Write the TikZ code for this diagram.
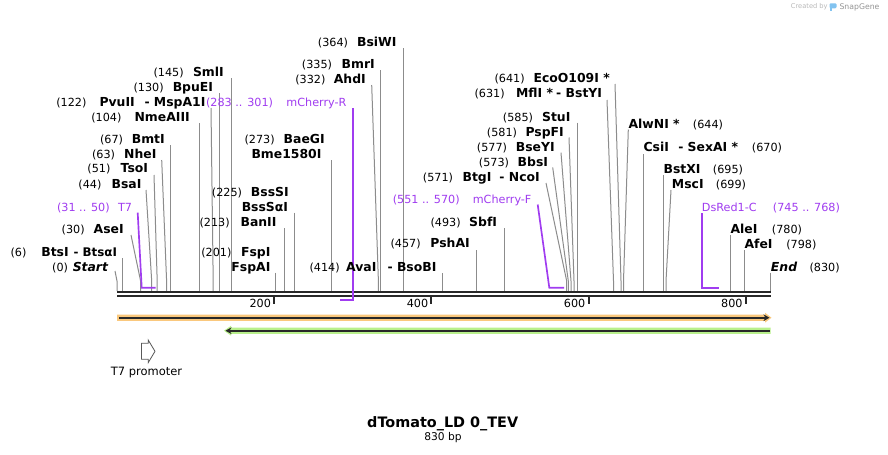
\documentclass[tikz,border=0pt]{standalone}
\usepackage{fontspec}
\setmainfont{DejaVu Sans}[BoldFont={DejaVu Sans Bold},ItalicFont={DejaVu Sans Oblique},BoldItalicFont={DejaVu Sans Bold Oblique}]
\usetikzlibrary{arrows.meta}
\definecolor{cutgray}{RGB}{140,140,140}
\definecolor{primer}{RGB}{160,60,240}
\definecolor{bb}{RGB}{40,40,40}
\definecolor{orangeband}{RGB}{250,200,125}
\definecolor{greenband}{RGB}{185,240,140}
\definecolor{logoblue}{RGB}{130,195,240}
\definecolor{logogray}{RGB}{185,185,185}
\tikzset{
  numtxt/.style={inner sep=0pt, yshift=-3.3pt, font=\fontsize{8.4}{10}\selectfont, text=black},
  enz/.style={inner sep=0pt, yshift=-3.3pt, font=\fontsize{9.3}{11}\selectfont\bfseries, text=black},
  enzit/.style={enz, font=\fontsize{9.3}{11}\selectfont\bfseries\itshape},
  ptxt/.style={inner sep=0pt, yshift=-3.3pt, font=\fontsize{8.4}{10}\selectfont, text=primer},
  cutln/.style={draw=cutgray, line width=0.75pt},
  primln/.style={draw=primer, line width=1.25pt},
}
\newcommand\numL[4]{\node[numtxt,anchor=base east] (#1) at (#2,#3) {#4};}
\newcommand\enzL[4]{\node[enz,anchor=base east] (#1) at (#2,#3) {#4};}
\newcommand\numR[4]{\node[numtxt,anchor=base west] (#1) at (#2,#3) {#4};}
\newcommand\enzR[4]{\node[enz,anchor=base west] (#1) at (#2,#3) {#4};}
\newcommand\prmL[4]{\node[ptxt,anchor=base east] (#1) at (#2,#3) {#4};}
\newcommand\prmR[4]{\node[ptxt,anchor=base west] (#1) at (#2,#3) {#4};}
\newcommand\cutat[4]{%
  \coordinate (#1-s) at (#2,#3);
  \coordinate (#1-k) at (#4,281);
  \coordinate (#1-b) at (#4,291);
  \draw[cutln] (#1-s) -- (#1-k) -- (#1-b);}
\begin{document}
\begin{tikzpicture}[x=0.75pt,y=-0.75pt]
\useasboundingbox[fill=white] (0,0) rectangle (888,454);

% ---- cut lines
\cutat{c0}{115}{271}{117}
\cutat{c6}{122.3}{258}{122.3}
\cutat{c30}{131}{235}{140.6}
\cutat{c44}{146}{190}{151.7}
\cutat{c51}{154}{175}{157.2}
\cutat{c63}{161.7}{160}{166.6}
\cutat{c67}{170.3}{145}{170.3}
\cutat{c104}{199.5}{123}{199.5}
\cutat{c122}{211}{108}{213.2}
\cutat{c130}{219.3}{93}{219.3}
\cutat{c145}{231.5}{78}{231.5}
\cutat{c201}{275.5}{272.5}{275.5}
\cutat{c213}{284.5}{228}{284.5}
\cutat{c225}{294.2}{212.7}{294.2}
\cutat{c273}{331.7}{160}{331.7}
\cutat{c332}{371.7}{85}{378.4}
\cutat{c335}{380.3}{70}{380.3}
\cutat{c364}{403.3}{48}{403.3}
\cutat{c414}{442.5}{273}{442.5}
\cutat{c457}{476.5}{250}{476.5}
\cutat{c493}{504.5}{228}{504.5}
\cutat{c571}{546}{183}{566.7}
\cutat{c573}{552.7}{167.5}{568.3}
\cutat{c577}{561}{152.7}{571}
\cutat{c581}{569}{137.5}{574}
\cutat{c585}{577.5}{122.7}{577.5}
\cutat{c631}{607}{100}{613.5}
\cutat{c641}{615}{84}{621}
\cutat{c644}{628.3}{129.5}{623.5}
\cutat{c670}{643.5}{154}{643.5}
\cutat{c695}{663.5}{175}{663.5}
\cutat{c699}{671}{190}{666}
\cutat{c780}{730.3}{235}{730.3}
\cutat{c798}{744.3}{250}{744.3}
\cutat{c830}{770.7}{272.7}{770.7}

% ---- backbone
\fill[bb] (117,291) rectangle (770.7,293.3);
\fill[bb] (117,295) rectangle (770.7,297.3);
\foreach \p/\t in {274.2/200,431.4/400,588.6/600,745.8/800}{
  \draw[bb,line width=1.5pt] (\p,297) -- (\p,304);
  \node[numtxt,anchor=base east] (tick\t) at (\p-3,303.3) {\t};
}

% ---- primer lines
\coordinate (p1a) at (137.7,212.7); \coordinate (p1b) at (141.7,287.7); \coordinate (p1c) at (155.7,287.7);
\draw[primln] (p1a) -- (p1b) -- (p1c);
\coordinate (p2a) at (353.3,108); \coordinate (p2b) at (353.3,300.3); \coordinate (p2c) at (340,300.3);
\draw[primln] (p2a) -- (p2b) -- (p2c);
\coordinate (p3a) at (537.7,204.5); \coordinate (p3b) at (549.3,287.7); \coordinate (p3c) at (564,287.7);
\draw[primln] (p3a) -- (p3b) -- (p3c);
\coordinate (p4a) at (701.7,213.3); \coordinate (p4b) at (701.7,287.7); \coordinate (p4c) at (719.3,287.7);
\draw[primln] (p4a) -- (p4b) -- (p4c);

% ---- left labels
\numL{n0}{68.3}{266.7}{(0)} \node[enzit,anchor=base east] (t0) at (108.3,266.7) {Start};
\numL{n6}{26.7}{251.7}{(6)} \enzL{t6}{69}{251.7}{BtsI}
\node[enz,anchor=base east,font=\fontsize{8.9}{11}\selectfont\bfseries] (t6b) at (117.3,251.7) {- BtsαI};
\numL{n30}{85}{229.3}{(30)} \enzL{t30}{124}{229.3}{AseI}
\prmL{nT7}{110}{207.3}{(31 .. 50)} \prmL{tT7}{132.3}{207.3}{T7}
\numL{n44}{101.7}{184}{(44)} \enzL{t44}{141.7}{184}{BsaI}
\numL{n51}{110.7}{168.3}{(51)} \enzL{t51}{148.3}{168.3}{TsoI}
\numL{n63}{115.3}{154}{(63)} \enzL{t63}{156.7}{154}{NheI}
\numL{n67}{123.3}{139.3}{(67)} \enzL{t67}{165}{139.3}{BmtI}
\numL{n104}{121.7}{117.3}{(104)} \enzL{t104}{190}{117.3}{NmeAIII}
\numL{n122}{86.7}{102.3}{(122)} \enzL{t122}{135}{102.3}{PvuII} \enzL{t122b}{205.7}{102.3}{- MspA1I}
\numL{n130}{164}{86.7}{(130)} \enzL{t130}{213.3}{86.7}{BpuEI}
\numL{n145}{184}{72.3}{(145)} \enzL{t145}{224}{72.3}{SmlI}
\numL{n201}{231.7}{251.7}{(201)} \enzL{t201}{270.7}{251.7}{FspI} \enzL{t201b}{270.7}{266.7}{FspAI}
\numL{n213}{230}{222.3}{(213)} \enzL{t213}{276.7}{222.3}{BanII}
\numL{n225}{242.3}{192.3}{(225)} \enzL{t225}{289}{192.3}{BssSI} \enzL{t225b}{288.3}{206.7}{BssSαI}
\numL{n273}{275}{139.3}{(273)} \enzL{t273}{325}{139.3}{BaeGI} \enzL{t273b}{321.7}{154}{Bme1580I}
\prmL{nmR}{273.3}{102}{(283 .. 301)} \prmL{tmR}{346.7}{102}{mCherry-R}
\numL{n332}{325.7}{79.3}{(332)} \enzL{t332}{366}{79.3}{AhdI}
\numL{n335}{332.3}{64}{(335)} \enzL{t335}{375}{64}{BmrI}
\numL{n364}{348.3}{42.3}{(364)} \enzL{t364}{396.7}{42.3}{BsiWI}
\numL{n414}{340}{266.7}{(414)} \enzL{t414}{376.7}{266.7}{AvaI} \enzL{t414b}{436.7}{266.7}{- BsoBI}
\numL{n457}{421}{243.3}{(457)} \enzL{t457}{470}{243.3}{PshAI}
\numL{n493}{461}{221.7}{(493)} \enzL{t493}{497.3}{221.7}{SbfI}
\prmL{nmF}{460}{199.3}{(551 .. 570)} \prmL{tmF}{531.7}{199.3}{mCherry-F}
\numL{n571}{453.3}{176.7}{(571)} \enzL{t571}{491.7}{176.7}{BtgI} \enzL{t571b}{540}{176.7}{- NcoI}
\numL{n573}{509.3}{161.7}{(573)} \enzL{t573}{548.3}{161.7}{BbsI}
\numL{n577}{507.3}{146.7}{(577)} \enzL{t577}{555}{146.7}{BseYI}
\numL{n581}{517.3}{131.7}{(581)} \enzL{t581}{564}{131.7}{PspFI}
\numL{n585}{533.3}{116.7}{(585)} \enzL{t585}{570.7}{116.7}{StuI}
\numL{n631}{505}{93.3}{(631)} \enzL{t631}{553.3}{93.3}{MflI *} \enzL{t631b}{602.3}{93.3}{- BstYI}
\numL{n641}{525}{78.3}{(641)} \enzL{t641}{610}{78.3}{EcoO109I *}

% ---- right labels
\enzR{t644}{628.3}{124}{AlwNI *} \numR{n644}{692.7}{124}{(644)}
\enzR{t670}{643.3}{146.7}{CsiI} \enzR{t670b}{678}{146.7}{- SexAI *} \numR{n670}{751.7}{146.7}{(670)}
\enzR{t695}{663.3}{169}{BstXI} \numR{n695}{712.7}{169}{(695)}
\enzR{t699}{671.7}{184}{MscI} \numR{n699}{715.7}{184}{(699)}
\prmR{tDs}{701.7}{206.7}{DsRed1-C} \prmR{nDs}{772.7}{206.7}{(745 .. 768)}
\enzR{t780}{730.3}{229}{AleI} \numR{n780}{771.7}{229}{(780)}
\enzR{t798}{744.3}{244}{AfeI} \numR{n798}{786}{244}{(798)}
\node[enzit,anchor=base west] (t830) at (770.7,266.7) {End}; \numR{n830}{809.3}{266.7}{(830)}

% ---- features
\fill[orangeband] (117,314.5) -- (765,314.5) -- (765,312.8) -- (771.5,317.7) -- (765,322.6) -- (765,320.9) -- (117,320.9) -- cycle;
\draw[bb,line width=1.4pt,-{Stealth[length=4.5pt,width=5pt]}] (119,317.7) -- (769.5,317.7);
\fill[greenband] (770.5,327.5) -- (231,327.5) -- (231,325.8) -- (224,330.7) -- (231,335.6) -- (231,333.9) -- (770.5,333.9) -- cycle;
\draw[bb,line width=1.4pt,-{Stealth[length=4.5pt,width=5pt]}] (769.5,330.7) -- (225.5,330.7);

% ---- T7 promoter
\draw[black!65,fill=white,line width=0.6pt] (141.4,343.3) -- (148.2,343.3) -- (148.2,340) -- (155,351.3) -- (148.2,362.7) -- (148.2,359.3) -- (141.4,359.3) -- cycle;
\node[inner sep=0pt,font=\fontsize{8.6}{10}\selectfont] (t7prom) at (146.5,373) {T7 promoter};

% ---- title
\node[inner sep=0pt,font=\fontsize{10.8}{12}\selectfont\bfseries] (title) at (442.7,423.3) {dTomato\_LD 0\_TEV};
\node[inner sep=0pt,font=\fontsize{8}{10}\selectfont] (bp) at (443,437.7) {830 bp};

% ---- logo
\node[inner sep=0pt,anchor=west,font=\fontsize{5}{6}\selectfont,text=logogray] (created) at (790.7,7) {Created by};
\fill[logoblue,rounded corners=0.8pt] (829.5,3.3) rectangle (836.5,8.3);
\fill[logoblue] (829.5,5) rectangle (832.3,10.8);
\node[inner sep=0pt,anchor=west,font=\fontsize{5.8}{7}\selectfont,text=logogray!80!black] (snapgene) at (839.3,7) {SnapGene};
\end{tikzpicture}
\end{document}
